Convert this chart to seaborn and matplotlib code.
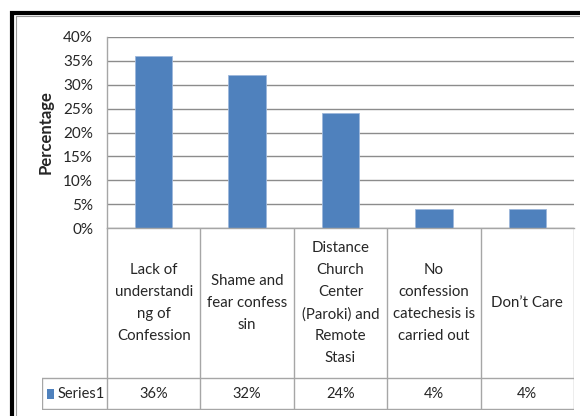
import matplotlib
matplotlib.use("Agg")
import matplotlib.pyplot as plt
import seaborn as sns
import pandas as pd
from matplotlib.patches import Rectangle
from matplotlib.lines import Line2D

# Reasons for not attending confession
categories = [
    "Lack of\nunderstandi\nng of\nConfession",
    "Shame and\nfear confess\nsin",
    "Distance\nChurch\nCenter\n(Paroki) and\nRemote\nStasi",
    "No\nconfession\ncatechesis is\ncarried out",
    "Don\u2019t Care",
]
values = [36, 32, 24, 4, 4]
series_name = "Series1"
y_ticks = [0, 5, 10, 15, 20, 25, 30, 35, 40]
y_label = "Percentage"

BAR = "#4F81BD"
GRID = "#8C8C8C"
TABLE = "#A6A6A6"
TEXT = "#262626"

sns.set_theme(style="white")
plt.rcParams["font.family"] = ["Lato", "DejaVu Sans"]

W, H = 580, 416
fig = plt.figure(figsize=(W / 100, H / 100), dpi=100)
fig.patch.set_facecolor("white")


def px_box(x0, y0, x1, y1):
    """Figure-fraction box from pixel edges measured from the top-left."""
    return [x0 / W, 1 - y1 / H, (x1 - x0) / W, (y1 - y0) / H]


# Chart frame (thick black border running off the right and bottom)
fig.add_artist(Rectangle((11.5 / W, -0.1), 1.2, 1 - 13 / H + 0.1,
                         transform=fig.transFigure, fill=False,
                         edgecolor="black", linewidth=3.0))
fig.add_artist(Line2D([16 / W, 1], [1 - 16 / H, 1 - 16 / H],
                      transform=fig.transFigure, color="#9a9a9a", lw=0.8))
fig.add_artist(Line2D([16 / W, 16 / W], [0, 1 - 16 / H],
                      transform=fig.transFigure, color="#9a9a9a", lw=0.8))

# Bar plot area
ax = fig.add_axes(px_box(107, 37, 574, 228))
df = pd.DataFrame({"reason": categories, "pct": values})
sns.barplot(data=df, x="reason", y="pct", color=BAR, width=0.4,
            saturation=1, edgecolor="#9DB7DB", linewidth=0.6, ax=ax)
ax.set_xlim(-0.5, len(categories) - 0.5)
ax.set_ylim(0, 40)
ax.set_yticks(y_ticks)
ax.set_yticklabels([f"{t}%" for t in y_ticks], fontsize=11, color=TEXT)
ax.tick_params(axis="y", length=0, pad=10)
ax.set_xticks([])
ax.set_xlabel("")
ax.yaxis.grid(True, color=GRID, linewidth=1.0)
ax.set_axisbelow(True)
for side in ["top", "right"]:
    ax.spines[side].set_visible(False)
for side in ["left", "bottom"]:
    ax.spines[side].set_color(TABLE)
    ax.spines[side].set_linewidth(1.0)
ax.set_ylabel(y_label, fontsize=12, fontweight="bold", color=TEXT,
              va="center")
ax.yaxis.set_label_coords((46 - 107) / 467, 0.5)

# Data table beneath the plot
unit = 467 / len(categories)
head_w = 65 / unit
tax = fig.add_axes(px_box(42, 228, 574, 410))
tax.set_xlim(-0.5 - head_w, len(categories) - 0.5)
tax.set_ylim(182, 0)
tax.axis("off")

row_split = 150
lw = 1.0
x_left = -0.5 - head_w
x_right = len(categories) - 0.5
tax.plot([x_left, x_right], [row_split, row_split], color=TABLE, lw=lw)
tax.plot([x_left, x_right], [181, 181], color=TABLE, lw=lw)
tax.plot([x_left, x_left], [row_split, 181], color=TABLE, lw=lw)
for i in range(len(categories) + 1):
    tax.plot([i - 0.5, i - 0.5], [0, 181], color=TABLE, lw=lw)

for i, (cat, v) in enumerate(zip(categories, values)):
    tax.text(i, row_split / 2, cat, ha="center", va="center", fontsize=10.8,
             color=TEXT, linespacing=1.72)
    tax.text(i, (row_split + 181) / 2, f"{v}%", ha="center", va="center",
             fontsize=10.5, color=TEXT)

tax.add_patch(Rectangle((x_left + 5 / unit, 160.5), 7 / unit, 10,
                        facecolor=BAR, edgecolor="none"))
tax.text(x_left + 16 / unit, (row_split + 181) / 2, series_name,
         ha="left", va="center", fontsize=10.5, color=TEXT)

fig.savefig("out.png", dpi=100, facecolor="white")
